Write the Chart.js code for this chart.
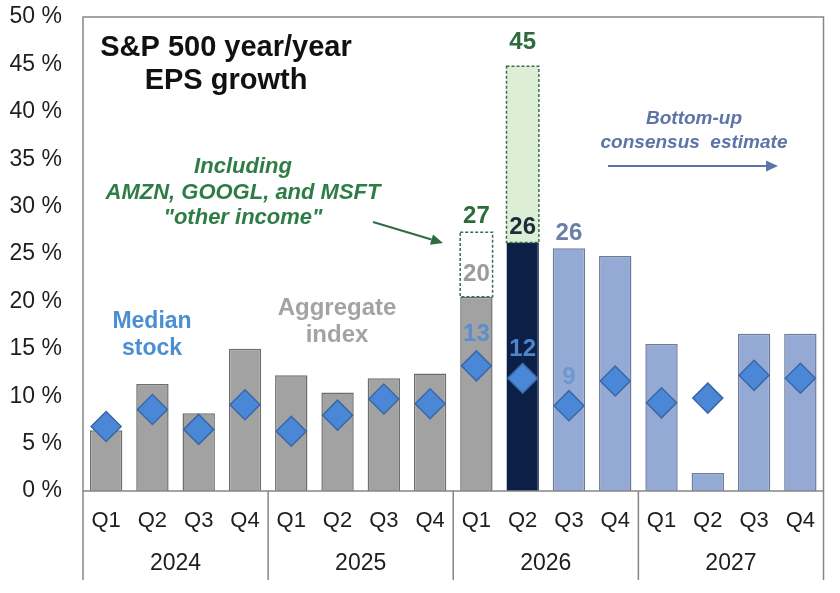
<!DOCTYPE html>
<html lang="en">
<head>
<meta charset="utf-8">
<title>S&amp;P 500 year/year EPS growth</title>
<script src="https://cdn.jsdelivr.net/npm/chart.js@4.4.1/dist/chart.umd.min.js"></script>
<style>
  html, body { margin: 0; padding: 0; background: #fff; }
  #wrap { width: 840px; height: 593px; }
</style>
</head>
<body>
<div id="wrap"><canvas id="eps" width="840" height="593"></canvas></div>

<script>
// --- data ---
var quarters = ['Q1', 'Q2', 'Q3', 'Q4', 'Q1', 'Q2', 'Q3', 'Q4', 'Q1', 'Q2', 'Q3', 'Q4', 'Q1', 'Q2', 'Q3', 'Q4'];
var years = ['2024', '2025', '2026', '2027'];
// aggregate index EPS growth, %
var aggregate = [6.4, 11.3, 8.2, 15.0, 12.2, 10.4, 11.9, 12.4, 20.5, 26.2, 25.6, 24.8, 15.5, 1.9, 16.6, 16.6];
// extra growth from AMZN, GOOGL, MSFT "other income" (stacked on top)
var otherIncome = [null, null, null, null, null, null, null, null, 6.8, 18.6, null, null, null, null, null, null];
// median stock EPS growth, %
var median = [6.8, 8.6, 6.5, 9.1, 6.3, 8.0, 9.7, 9.2, 13.2, 11.9, 9.0, 11.6, 9.3, 9.8, 12.2, 11.9];
var yTicks = [0, 5, 10, 15, 20, 25, 30, 35, 40, 45, 50];

var GRAY = '#a2a2a2', GRAY_LINE = '#6e6e6e';
var NAVY = '#0c1f47';
var LBLUE = '#94a9d4', LBLUE_LINE = '#6d7b9b';
var DIAMOND = '#4a87d6', DIAMOND_LINE = '#3a68a6';
var GREEN = '#2b6b3c';

function barFill(i) {
  if (i <= 8) return GRAY;
  if (i === 9) return NAVY;
  return LBLUE;
}
function barLine(i) {
  if (i <= 8) return GRAY_LINE;
  if (i === 9) return NAVY;
  return LBLUE_LINE;
}

// value labels: dataset, index, text, colour, pixel offset from the mark
var valueLabels = [
  { ds: 1, i: 8, text: '27', color: GREEN, dy: -16 },
  { ds: 1, i: 9, text: '45', color: GREEN, dy: -24 },
  { ds: 0, i: 9, text: '26', color: '#1c2d3c', dy: -15 },
  { ds: 0, i: 10, text: '26', color: '#6b7fa8', dy: -15 },
  { ds: 0, i: 8, text: '20', color: '#9a9a9a', dy: -22 },
  { ds: 2, i: 8, text: '13', color: '#5a8fcf', dy: -31 },
  { ds: 2, i: 9, text: '12', color: '#4f86c9', dy: -29 },
  { ds: 2, i: 10, text: '9', color: '#6a98cf', dy: -28 }
];

var FONT = '"Liberation Sans", Arial, sans-serif';

function arrow(ctx, x1, y1, x2, y2, color, head) {
  var a = Math.atan2(y2 - y1, x2 - x1);
  ctx.save();
  ctx.strokeStyle = color;
  ctx.fillStyle = color;
  ctx.lineWidth = 2;
  ctx.beginPath();
  ctx.moveTo(x1, y1);
  ctx.lineTo(x2 - head * Math.cos(a), y2 - head * Math.sin(a));
  ctx.stroke();
  ctx.beginPath();
  ctx.moveTo(x2, y2);
  ctx.lineTo(x2 - head * Math.cos(a) + head * 0.45 * Math.sin(a), y2 - head * Math.sin(a) - head * 0.45 * Math.cos(a));
  ctx.lineTo(x2 - head * Math.cos(a) - head * 0.45 * Math.sin(a), y2 - head * Math.sin(a) + head * 0.45 * Math.cos(a));
  ctx.closePath();
  ctx.fill();
  ctx.restore();
}

function textLines(ctx, lines, x, y, lh, font, color) {
  ctx.save();
  ctx.font = font;
  ctx.fillStyle = color;
  ctx.textAlign = 'center';
  ctx.textBaseline = 'middle';
  lines.forEach(function (t, k) { ctx.fillText(t, x, y + k * lh); });
  ctx.restore();
}

var decorPlugin = {
  id: 'decor',
  afterDatasetsDraw: function (chart) {
    var ctx = chart.ctx;
    var area = chart.chartArea;
    var xs = chart.scales.x;

    // dashed outline round the "other income" segments
    var meta = chart.getDatasetMeta(1);
    ctx.save();
    ctx.strokeStyle = '#3d6b4b';
    ctx.lineWidth = 1.5;
    ctx.setLineDash([3, 2]);
    meta.data.forEach(function (bar, i) {
      if (otherIncome[i] == null) return;
      var p = bar.getProps(['x', 'y', 'base', 'width'], true);
      ctx.strokeRect(p.x - p.width / 2, p.y, p.width, p.base - p.y);
    });
    ctx.restore();

    // value labels
    ctx.save();
    ctx.font = 'bold 24px ' + FONT;
    ctx.textAlign = 'center';
    ctx.textBaseline = 'middle';
    valueLabels.forEach(function (l) {
      var el = chart.getDatasetMeta(l.ds).data[l.i];
      ctx.fillStyle = l.color;
      ctx.fillText(l.text, el.x, el.y + l.dy);
    });
    ctx.restore();

    // frame + year groups
    var half = (xs.getPixelForValue(1) - xs.getPixelForValue(0)) / 2;
    var bottomY = 580;
    ctx.save();
    ctx.strokeStyle = '#868686';
    ctx.lineWidth = 1.5;
    ctx.beginPath();
    ctx.moveTo(area.left, bottomY);
    ctx.lineTo(area.left, area.top);
    ctx.lineTo(area.right, area.top);
    ctx.lineTo(area.right, bottomY);
    ctx.moveTo(area.left, area.bottom);
    ctx.lineTo(area.right, area.bottom);
    for (var g = 1; g < years.length; g++) {
      var sx = xs.getPixelForValue(g * 4) - half;
      ctx.moveTo(sx, area.bottom);
      ctx.lineTo(sx, bottomY);
    }
    ctx.stroke();
    ctx.font = '23px ' + FONT;
    ctx.fillStyle = '#1e1e1e';
    ctx.textAlign = 'center';
    ctx.textBaseline = 'middle';
    years.forEach(function (yr, g) {
      var cx = (xs.getPixelForValue(g * 4) + xs.getPixelForValue(g * 4 + 3)) / 2;
      ctx.fillText(yr, cx, 564);
    });
    ctx.restore();

    // annotations
    textLines(ctx, ['S&P 500 year/year', 'EPS growth'], 226, 48, 33, 'bold 29px ' + FONT, '#111');
    textLines(ctx, ['Including', 'AMZN, GOOGL, and MSFT', '"other income"'], 243, 167, 25.5, 'italic bold 22px ' + FONT, '#2f7d46');
    arrow(ctx, 373, 222, 443, 243, '#2e6b45', 12);
    textLines(ctx, ['Bottom-up', 'consensus  estimate'], 694, 119, 24, 'italic bold 19px ' + FONT, '#5c74a8');
    arrow(ctx, 608, 166, 778, 166, '#5c74a8', 12);
    textLines(ctx, ['Median', 'stock'], 152, 322, 27, 'bold 23px ' + FONT, '#4a8fd2');
    textLines(ctx, ['Aggregate', 'index'], 337, 308, 27, 'bold 24px ' + FONT, '#a3a3a3');
  }
};

var ctx = document.getElementById('eps').getContext('2d');
var chart = new Chart(ctx, {
  type: 'bar',
  data: {
    labels: quarters,
    datasets: [{
      type: 'bar',
      label: 'Aggregate index',
      data: aggregate,
      backgroundColor: aggregate.map(function (v, i) { return barFill(i); }),
      borderColor: aggregate.map(function (v, i) { return barLine(i); }),
      borderWidth: 1.5,
      stack: 'eps',
      order: 2
    }, {
      type: 'bar',
      label: 'Other income',
      data: otherIncome,
      backgroundColor: otherIncome.map(function (v, i) { return i === 9 ? '#dcefd6' : '#ffffff'; }),
      borderWidth: 0,
      stack: 'eps',
      order: 2
    }, {
      type: 'line',
      label: 'Median stock',
      data: median,
      showLine: false,
      pointStyle: 'rectRot',
      pointRadius: 15,
      pointHoverRadius: 15,
      pointBackgroundColor: DIAMOND,
      pointBorderColor: DIAMOND_LINE,
      pointBorderWidth: 1.5,
      stack: 'median',
      order: 1
    }]
  },
  options: {
    responsive: false,
    animation: false,
    devicePixelRatio: 1,
    layout: { padding: { left: 0, top: 17, right: 13, bottom: 0 } },
    datasets: { bar: { barPercentage: 0.7, categoryPercentage: 1 } },
    plugins: { legend: { display: false }, tooltip: { enabled: false } },
    scales: {
      x: {
        stacked: true,
        offset: true,
        grid: { display: false, drawTicks: false },
        border: { display: false },
        ticks: {
          autoSkip: false, maxRotation: 0, padding: 17,
          color: '#1e1e1e', font: { family: FONT, size: 22 }
        },
        afterFit: function (s) { s.height = 102; s.paddingLeft = 0; s.paddingRight = 0; }
      },
      y: {
        stacked: true,
        min: 0, max: 50,
        afterBuildTicks: function (s) { s.ticks = yTicks.map(function (v) { return { value: v }; }); },
        grid: { display: false, drawTicks: false },
        border: { display: false },
        ticks: {
          padding: 21, color: '#1e1e1e', font: { family: FONT, size: 23 },
          callback: function (v) { return v + ' %'; }
        },
        afterFit: function (s) { s.width = 83; s.paddingTop = 0; s.paddingBottom = 0; }
      }
    }
  },
  plugins: [decorPlugin]
});
</script>
</body>
</html>
